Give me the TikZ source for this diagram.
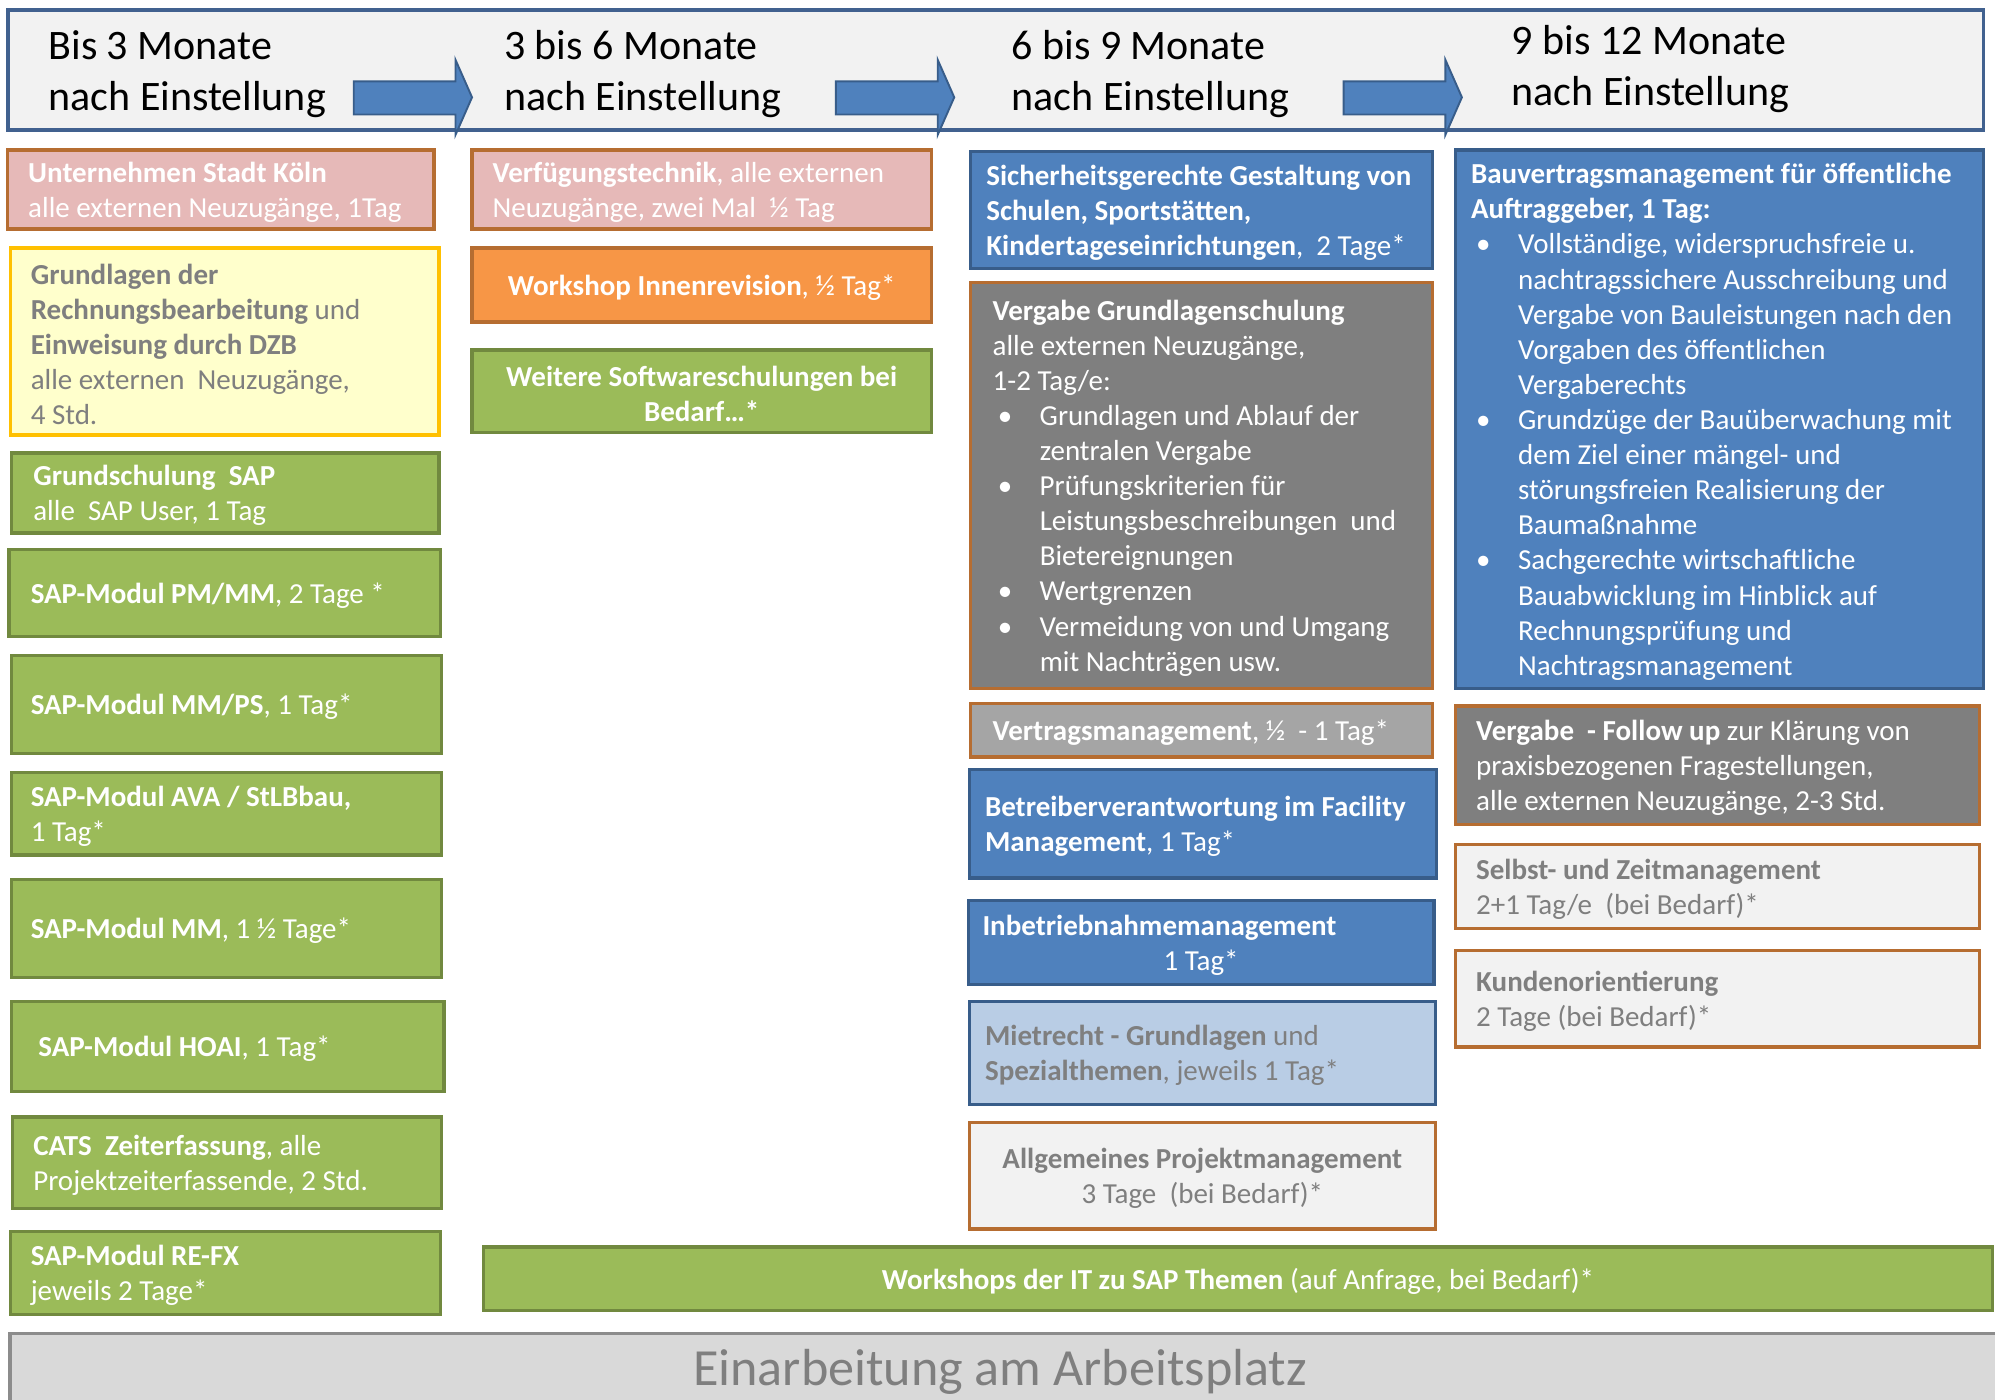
\documentclass[tikz,border=0pt]{standalone}
\usepackage{fontspec}
\setmainfont{Carlito}
\definecolor{cPink}{HTML}{E6B9B8}
\definecolor{cOrgB}{HTML}{B66D31}
\definecolor{cYel}{HTML}{FFFFCC}
\definecolor{cYelB}{HTML}{FFC000}
\definecolor{cGrn}{HTML}{9BBB59}
\definecolor{cGrnB}{HTML}{71893F}
\definecolor{cOrg}{HTML}{F79646}
\definecolor{cBlu}{HTML}{4F81BD}
\definecolor{cBluB}{HTML}{385D8A}
\definecolor{cGry}{HTML}{7F7F7F}
\definecolor{cGry2}{HTML}{A5A5A5}
\definecolor{cLBlu}{HTML}{B9CDE5}
\definecolor{cLGry}{HTML}{F2F2F2}
\definecolor{cTxtG}{HTML}{7F7F7F}
\definecolor{cBot}{HTML}{D9D9D9}
\definecolor{cBotB}{HTML}{8C8C8C}
\definecolor{cHead}{HTML}{F2F2F2}
\definecolor{cHeadB}{HTML}{41618F}
\newcommand\mkbox[6]{\node[#2, minimum width={(#5-#3)*1pt}, minimum height={(#6-#4)*1pt}] (#1) at ({(#3+#5)/2},{(#4+#6)/2}) {};}
\newcommand\bl[1]{\makebox[37pt][l]{\hspace{4pt}\textbullet}#1}
\newcommand\cl[1]{\hspace*{37pt}#1}
\begin{document}
\begin{tikzpicture}[x=1pt,y=-1pt,
  bx/.style={rectangle, inner sep=0pt, outer sep=0pt, line width=2.6pt},
  pinkb/.style={bx, fill=cPink, draw=cOrgB},
  yelb/.style={bx, fill=cYel, draw=cYelB},
  grnb/.style={bx, fill=cGrn, draw=cGrnB},
  orgb/.style={bx, fill=cOrg, draw=cOrgB},
  blub/.style={bx, fill=cBlu, draw=cBluB},
  gryb/.style={bx, fill=cGry, draw=cOrgB},
  gry2b/.style={bx, fill=cGry2, draw=cOrgB},
  lblb/.style={bx, fill=cLBlu, draw=cBluB},
  lgryb/.style={bx, fill=cLGry, draw=cOrgB},
  tw/.style={font=\fontsize{22.8}{27.6}\selectfont, text=white, align=left, inner sep=0pt, anchor=west, yshift=-2pt},
  tg/.style={tw, text=cTxtG},
  twc/.style={tw, align=center, anchor=center},
  tgc/.style={tg, align=center, anchor=center},
  hd/.style={font=\fontsize{33}{40}\selectfont, text=black, align=left, inner sep=0pt, anchor=west},
  harrow/.style={fill=cBlu, draw=cBluB, line width=1.5pt, line join=miter}
]
\useasboundingbox (0,0) rectangle (1568,1100);

% header
\mkbox{head}{bx, fill=cHead, draw=cHeadB, line width=3pt}{6}{8}{1559}{102}
\node[hd] (h1) at (38,58) {Bis 3 Monate\\nach Einstellung};
\node[hd] (h2) at (396,58) {3 bis 6 Monate\\nach Einstellung};
\node[hd] (h3) at (795,58) {6 bis 9 Monate\\nach Einstellung};
\node[hd] (h4) at (1188,54) {9 bis 12 Monate\\nach Einstellung};
\foreach \a/\b in {278/358, 657/737, 1056/1136}{
  \draw[harrow] (\a,64) -- (\b,64) -- (\b,47) -- ({\b+13},76.5) -- (\b,106) -- (\b,90) -- (\a,90) -- cycle;
}

% column 1
\mkbox{a1}{pinkb}{6}{118}{341}{180}
\node[tw, xshift=16pt] (a1t) at (a1.west) {\textbf{Unternehmen Stadt Köln}\\alle externen Neuzugänge, 1Tag};
\mkbox{a2}{yelb}{8}{195}{345}{342}
\node[tg, xshift=16pt] (a2t) at (a2.west) {\textbf{Grundlagen der}\\\textbf{Rechnungsbearbeitung} und\\\textbf{Einweisung durch DZB}\\alle externen\ \ Neuzugänge,\\4 Std.};
\mkbox{a3}{grnb}{9}{356}{345}{419}
\node[tw, xshift=17pt] (a3t) at (a3.west) {\textbf{Grundschulung\ \ SAP}\\alle\ \ SAP User, 1 Tag};
\mkbox{a4}{grnb}{7}{432}{346}{500}
\node[tw, xshift=17pt] (a4t) at (a4.west) {\textbf{SAP-Modul PM/MM}, 2 Tage *};
\mkbox{a5}{grnb}{9}{515}{347}{592}
\node[tw, xshift=15pt] (a5t) at (a5.west) {\textbf{SAP-Modul MM/PS}, 1 Tag*};
\mkbox{a6}{grnb}{9}{607}{347}{672}
\node[tw, xshift=15pt] (a6t) at (a6.west) {\textbf{SAP-Modul AVA / StLBbau,}\\1 Tag*};
\mkbox{a7}{grnb}{9}{691}{347}{768}
\node[tw, xshift=15pt] (a7t) at (a7.west) {\textbf{SAP-Modul MM}, 1 ½ Tage*};
\mkbox{a8}{grnb}{9}{787}{349}{858}
\node[tw, xshift=21pt] (a8t) at (a8.west) {\textbf{SAP-Modul HOAI}, 1 Tag*};
\mkbox{a9}{grnb}{10}{878}{347}{950}
\node[tw, xshift=16pt] (a9t) at (a9.west) {\textbf{CATS\ \ Zeiterfassung}, alle\\Projektzeiterfassende, 2 Std.};
\mkbox{a10}{grnb}{8}{968}{346}{1033}
\node[tw, xshift=16pt] (a10t) at (a10.west) {\textbf{SAP-Modul RE-FX}\\jeweils 2 Tage*};

% column 2
\mkbox{b1}{pinkb}{371}{118}{732}{180}
\node[tw, xshift=16pt] (b1t) at (b1.west) {\textbf{Verfügungstechnik}, alle externen\\Neuzugänge, zwei Mal\ \ ½ Tag};
\mkbox{b2}{orgb}{371}{195}{732}{253}
\node[twc] (b2t) at (b2.center) {\textbf{Workshop Innenrevision}, ½ Tag*};
\mkbox{b3}{grnb}{371}{275}{732}{340}
\node[twc] (b3t) at (b3.center) {\textbf{Weitere Softwareschulungen bei}\\\textbf{Bedarf…*}};

% column 3
\mkbox{c1}{blub}{763}{119}{1126}{211}
\node[tw, xshift=12pt] (c1t) at (c1.west) {\textbf{Sicherheitsgerechte Gestaltung von}\\\textbf{Schulen, Sportstätten,}\\\textbf{Kindertageseinrichtungen},\ \ 2 Tage*};
\mkbox{c2}{gryb}{763}{222}{1126}{541}
\node[tw, xshift=17pt] (c2t) at (c2.west) {\textbf{Vergabe Grundlagenschulung}\\alle externen Neuzugänge,\\1-2 Tag/e:\\
\bl{Grundlagen und Ablauf der}\\\cl{zentralen Vergabe}\\
\bl{Prüfungskriterien für}\\\cl{Leistungsbeschreibungen\ \ und}\\\cl{Bietereignungen}\\
\bl{Wertgrenzen}\\
\bl{Vermeidung von und Umgang}\\\cl{mit Nachträgen usw.}};
\mkbox{c3}{gry2b}{763}{553}{1126}{595}
\node[tw, xshift=17pt] (c3t) at (c3.west) {\textbf{Vertragsmanagement}, ½\ \ - 1 Tag*};
\mkbox{c4}{blub}{762}{605}{1129}{690}
\node[tw, xshift=12pt] (c4t) at (c4.west) {\textbf{Betreiberverantwortung im Facility}\\\textbf{Management}, 1 Tag*};
\mkbox{c5}{blub}{761}{708}{1127}{774}
\node[tw, xshift=11pt] (c5t) at ([yshift=14pt]c5.west) {\textbf{Inbetriebnahmemanagement}};
\node[twc] (c5u) at ([yshift=-14pt]c5.center) {1 Tag*};
\mkbox{c6}{lblb}{762}{787}{1128}{868}
\node[tg, xshift=12pt] (c6t) at (c6.west) {\textbf{Mietrecht - Grundlagen} und\\\textbf{Spezialthemen}, jeweils 1 Tag*};
\mkbox{c7}{lgryb}{762}{882}{1128}{966}
\node[tgc] (c7t) at (c7.center) {\textbf{Allgemeines Projektmanagement}\\3 Tage\ \ (bei Bedarf)*};

% column 4
\mkbox{d1}{blub}{1144}{118}{1559}{541}
\node[tw, xshift=12pt] (d1t) at (d1.west) {\textbf{Bauvertragsmanagement für öffentliche}\\\textbf{Auftraggeber, 1 Tag:}\\
\bl{Vollständige, widerspruchsfreie u.}\\\cl{nachtragssichere Ausschreibung und}\\\cl{Vergabe von Bauleistungen nach den}\\\cl{Vorgaben des öffentlichen}\\\cl{Vergaberechts}\\
\bl{Grundzüge der Bauüberwachung mit}\\\cl{dem Ziel einer mängel- und}\\\cl{störungsfreien Realisierung der}\\\cl{Baumaßnahme}\\
\bl{Sachgerechte wirtschaftliche}\\\cl{Bauabwicklung im Hinblick auf}\\\cl{Rechnungsprüfung und}\\\cl{Nachtragsmanagement}};
\mkbox{d2}{gryb}{1144}{555}{1556}{648}
\node[tw, xshift=16pt] (d2t) at (d2.west) {\textbf{Vergabe\ \ - Follow up} zur Klärung von\\praxisbezogenen Fragestellungen,\\alle externen Neuzugänge, 2-3 Std.};
\mkbox{d3}{lgryb}{1144}{664}{1556}{730}
\node[tg, xshift=16pt] (d3t) at (d3.west) {\textbf{Selbst- und Zeitmanagement}\\2+1 Tag/e\ \ (bei Bedarf)*};
\mkbox{d4}{lgryb}{1144}{747}{1556}{823}
\node[tg, xshift=16pt] (d4t) at (d4.west) {\textbf{Kundenorientierung}\\2 Tage (bei Bedarf)*};

% bottom
\mkbox{w}{grnb}{380}{980}{1566}{1030}
\node[twc] (wt) at (w.center) {\textbf{Workshops der IT zu SAP Themen} (auf Anfrage, bei Bedarf)*};
\mkbox{ea}{bx, fill=cBot, draw=cBotB, line width=3pt}{8}{1048}{1580}{1130}
\node[font=\fontsize{41}{46}\selectfont, text=cTxtG, inner sep=0pt] (eat) at (786,1078) {Einarbeitung am Arbeitsplatz};
\end{tikzpicture}
\end{document}
